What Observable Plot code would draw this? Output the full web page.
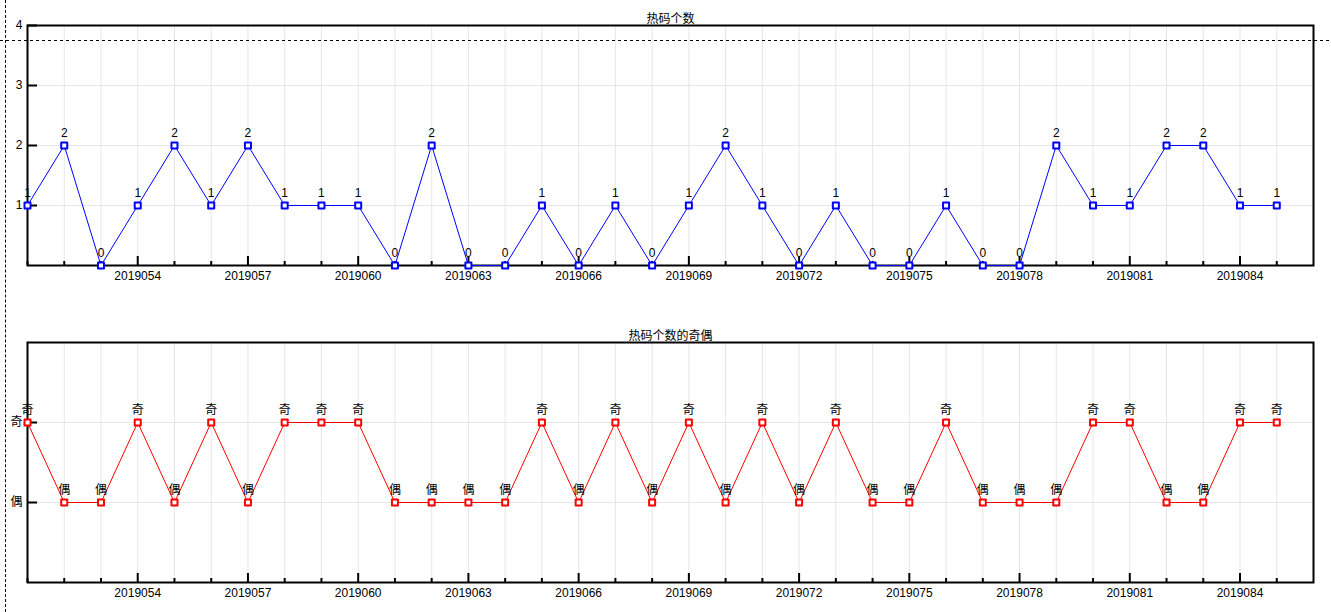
<!DOCTYPE html>
<html><head><meta charset="utf-8">
<script src="https://cdn.jsdelivr.net/npm/d3@7"></script>
<script src="https://cdn.jsdelivr.net/npm/@observablehq/plot@0.6"></script>
<style>
body{margin:0;background:#fff;}
#wrap{position:relative;width:1331px;height:612px;overflow:hidden;background:#fff;}
#wrap svg{position:absolute;left:0;}
#cursorV{position:absolute;left:5px;top:0;height:612px;width:0;border-left:1px dashed #000;}
</style></head><body><div id="wrap"><div id="cursorV"></div></div>
<script>
// ---- data ----
const periods = [2019051,2019052,2019053,2019054,2019055,2019056,2019057,2019058,2019059,2019060,
  2019061,2019062,2019063,2019064,2019065,2019066,2019067,2019068,2019069,2019070,
  2019071,2019072,2019073,2019074,2019075,2019076,2019077,2019078,2019079,2019080,
  2019081,2019082,2019083,2019084,2019085];
const hotCounts = [1,2,0,1,2,1,2,1,1,1,0,2,0,0,1,0,1,0,1,2,1,0,1,0,0,1,0,0,2,1,1,2,2,1,1];
const parity = ["奇","偶","偶","奇","偶","奇","偶","奇","奇","奇","偶","偶","偶","偶","奇","偶","奇",
  "偶","奇","偶","奇","偶","奇","偶","偶","奇","偶","偶","偶","奇","奇","偶","偶","奇","奇"];
const xTickLabels = [2019054,2019057,2019060,2019063,2019066,2019069,2019072,2019075,2019078,2019081,2019084];
const xDomain = [2019051, 2019086];
const topYTicks = [1,2,3,4];
const parityLevels = ["偶","奇"]; // 0, 1
const topTitle = "热码个数";
const bottomTitle = "热码个数的奇偶";
const cursorValue = 3.75; // crosshair line in the top panel

const topData = periods.map((p,i)=>({x:p, y:hotCounts[i], label:String(hotCounts[i])}));
const bottomData = periods.map((p,i)=>({x:p, y:parityLevels.indexOf(parity[i]), label:parity[i]}));

const FONT = '"Liberation Sans","Noto Sans CJK SC",sans-serif';
const GRID = "#e6e6e6";

function panel({title, data, yDomain, yTicks, yFormat, color, height, marginTop, marginBottom, cursor}) {
  const minor = periods.filter(p => !xTickLabels.includes(p));
  const marks = [
    Plot.gridX(periods, {stroke: GRID, strokeOpacity: 1}),
    Plot.gridY(yTicks, {stroke: GRID, strokeOpacity: 1}),
    Plot.ruleX(minor, {x: d=>d, y1: yDomain[0], y2: yDomain[0], insetTop:-4, stroke:"#000", strokeWidth:2}),
    Plot.ruleX(xTickLabels, {x: d=>d, y1: yDomain[0], y2: yDomain[0], insetTop:-9, stroke:"#000", strokeWidth:2}),
    Plot.ruleY(yTicks, {y: d=>d, x1: xDomain[0], x2: xDomain[0], insetRight:-10, stroke:"#000", strokeWidth:2}),
    Plot.frame({stroke:"#000", strokeWidth:2}),
    Plot.line(data, {x:"x", y:"y", stroke: color, strokeWidth: 1}),
    Plot.dot(data, {x:"x", y:"y", symbol:"square", r:3.4, stroke: color, strokeWidth: 2, fill:"#fff", strokeLinejoin:"round"}),
    Plot.text(data, {x:"x", y:"y", text:"label", dy:-12, fontSize:12, fill:"#000"}),
    Plot.text([title], {text: d=>d, frameAnchor:"top", dy:-11, fontSize:12, fill:"#000"})
  ];
  if (cursor != null) {
    marks.push(Plot.ruleY([cursor], {y: d=>d, stroke:"#000", strokeWidth:1, strokeDasharray:"3,3", insetLeft:-27, insetRight:-18}));
  }
  return Plot.plot({
    width: 1331, height, marginLeft: 27, marginRight: 18, marginTop, marginBottom,
    style: {fontFamily: FONT, fontSize: "12px", background: "transparent", color: "#000"},
    x: {type:"linear", domain: xDomain, ticks: xTickLabels, tickFormat: d=>String(d), tickSize: 0, tickPadding: 6, label: null},
    y: {type:"linear", domain: yDomain, ticks: yTicks, tickFormat: yFormat, tickSize: 0, tickPadding: 5, label: null},
    marks
  });
}

const wrapEl = document.getElementById("wrap");
const topPanel = panel({title: topTitle, data: topData, yDomain:[0,4], yTicks: topYTicks, yFormat: d=>String(d),
  color:"#0000ff", height:306, marginTop:25, marginBottom:41, cursor: cursorValue});
topPanel.style.top = "0px";
const bottomPanel = panel({title: bottomTitle, data: bottomData, yDomain:[-1,2], yTicks:[0,1], yFormat: d=>parityLevels[d],
  color:"#ff0000", height:306, marginTop:36, marginBottom:30, cursor: null});
bottomPanel.style.top = "306px";
wrapEl.insertBefore(bottomPanel, wrapEl.firstChild);
wrapEl.insertBefore(topPanel, wrapEl.firstChild);
</script></body></html>
